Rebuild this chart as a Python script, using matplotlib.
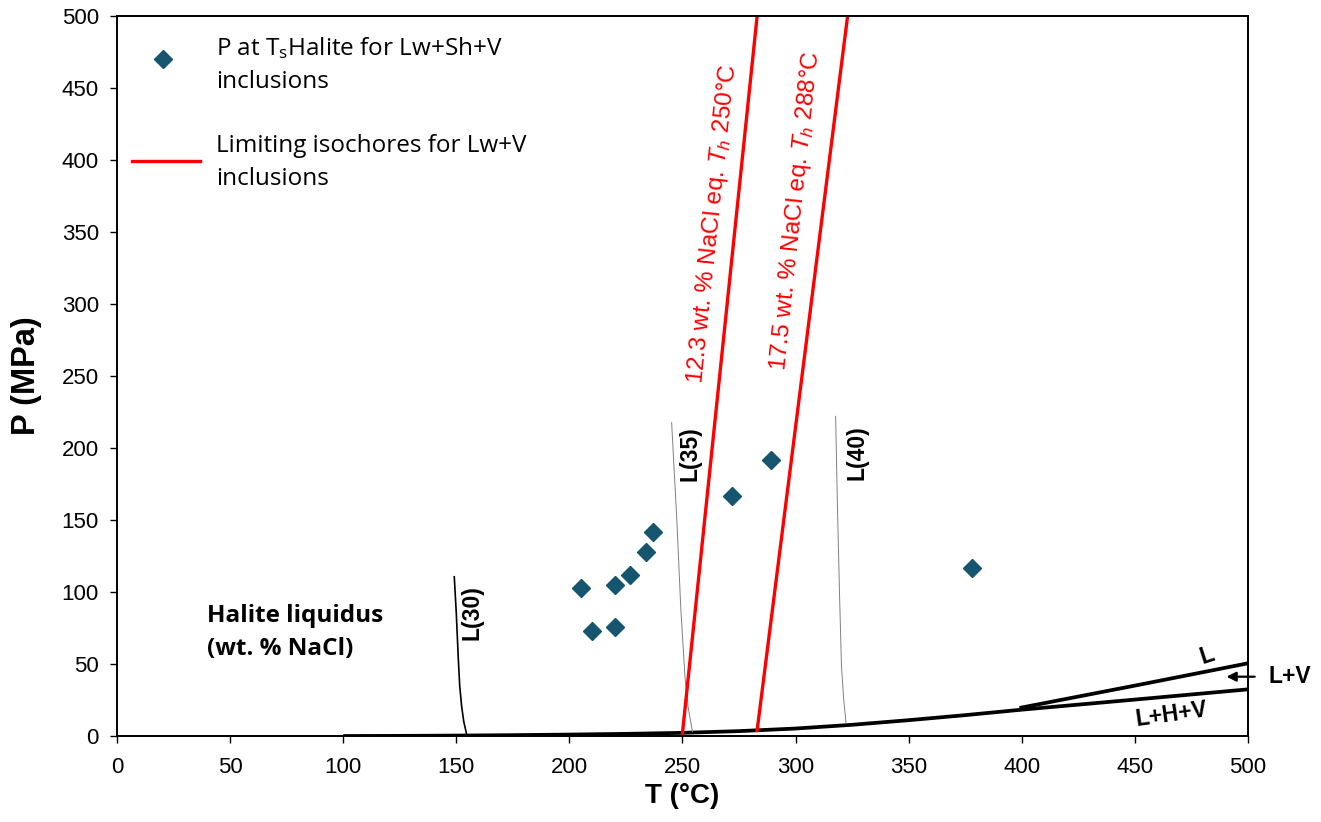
import numpy as np
import matplotlib.pyplot as plt

plt.rcParams['font.family'] = ['Liberation Sans', 'DejaVu Sans']
plt.rcParams['mathtext.fontset'] = 'custom'
plt.rcParams['mathtext.rm'] = 'Liberation Sans'
plt.rcParams['mathtext.it'] = 'Liberation Sans:italic'

# inclusion data: P at Ts halite
t_incl = [205, 210, 220, 220, 227, 234, 237, 272, 289, 378]
p_incl = [103, 73, 105, 76, 112, 128, 142, 167, 192, 117]

# L+H+V curve
t_lhv = [100, 125, 150, 175, 200, 225, 250, 275, 300, 325, 350, 375, 400, 450, 500]
p_lhv = [0, 0.1, 0.3, 0.6, 1.0, 1.5, 2.2, 3.4, 5.2, 7.8, 11, 14.5, 18.3, 25.3, 32.4]

# L / L+V boundary
t_lv = [399, 450, 500]
p_lv = [19.5, 35, 50.5]

# halite liquidus lines
t_l30 = [149.1, 150.0, 150.9, 151.5, 152.4, 153.3, 154.3, 154.6]
p_l30 = [110.6, 85, 53, 35, 20, 10, 3, 0.4]
t_l35 = [245.2, 247.5, 249.2, 251.1, 252.5, 254.4]
p_l35 = [217.6, 150, 90, 41, 20, 3]
t_l40 = [317.7, 318.5, 319.4, 320.3, 321.3, 322.3]
p_l40 = [222, 160, 100, 48, 25, 9]

# limiting isochores
t_iso1 = [250, 283]
p_iso1 = [2.2, 500]
t_iso2 = [283, 323]
p_iso2 = [3.9, 500]

fig = plt.figure(figsize=(13.21, 8.22), dpi=100)
ax = fig.add_axes([0.0886, 0.1046, 0.8561, 0.8759])

ax.plot(t_lhv, p_lhv, color='black', lw=2.7, solid_capstyle='butt')
ax.plot(t_lv, p_lv, color='black', lw=2.7, solid_capstyle='butt')
ax.plot(t_l30, p_l30, color='black', lw=1.2)
ax.plot(t_l35, p_l35, color='#808080', lw=0.7)
ax.plot(t_l40, p_l40, color='#808080', lw=0.7)
ax.plot(t_iso1, p_iso1, color='#ff0000', lw=2.4)
ax.plot(t_iso2, p_iso2, color='#ff0000', lw=2.4)
ax.plot(t_incl, p_incl, 'D', color='#155570', ms=9.5, ls='none')

ax.set_xlim(0, 500)
ax.set_ylim(0, 500)
ax.set_xticks(np.arange(0, 501, 50))
ax.set_yticks(np.arange(0, 501, 50))
ax.tick_params(direction='out', length=5, width=1, labelsize=16)
ax.tick_params(axis='x', pad=10)
ax.tick_params(axis='y', pad=8)
for s in ax.spines.values():
    s.set_linewidth(1.4)

ax.set_xlabel('T (°C)', fontsize=20, fontweight='bold', labelpad=4)
ax.set_ylabel('P (MPa)', fontsize=23.5, fontweight='bold', labelpad=14)

# labels on the liquidus lines
bold = dict(fontsize=16.5, fontweight='bold', ha='center', va='center')
ax.text(157, 86, 'L(30)', rotation=90, **bold)
ax.text(253.5, 196, 'L(35)', rotation=90, **bold)
ax.text(327, 197, 'L(40)', rotation=90, **bold)
ax.text(482, 56, 'L', rotation=18, fontsize=16.5, fontweight='bold', ha='center', va='center')
ax.text(466, 14.6, 'L+H+V', rotation=8, fontsize=16.5, fontweight='bold', ha='center', va='center')
ax.text(509, 41, 'L+V', fontsize=16.5, fontweight='bold', ha='left', va='center', clip_on=False)
ax.annotate('', xy=(490.5, 41.2), xytext=(503, 41.2), annotation_clip=False,
            arrowprops=dict(arrowstyle='-|>', color='black', lw=1.6, mutation_scale=14,
                            shrinkA=0, shrinkB=0))

ax.text(39.8, 79.4, 'Halite liquidus', fontsize=17.5, fontweight='bold',
        family=['Open Sans', 'DejaVu Sans'], ha='left', va='baseline')
ax.text(39.8, 56.4, '(wt. % NaCl)', fontsize=17.5, fontweight='bold',
        family=['Open Sans', 'DejaVu Sans'], ha='left', va='baseline')

# isochore labels
ax.text(263.5, 356, '12.3 wt. % NaCl eq. $\\mathit{T}_\\mathit{h}$ 250°C', rotation=84,
        rotation_mode='anchor', color='#ff0000', fontsize=17.5, ha='center', va='center')
ax.text(300.2, 364.6, '17.5 wt. % NaCl eq. $\\mathit{T}_\\mathit{h}$ 288°C', rotation=84,
        rotation_mode='anchor', color='#ff0000', fontsize=17.5, ha='center', va='center')

# legend drawn by hand
lg = dict(fontsize=17.5, family=['Open Sans', 'DejaVu Sans'], ha='left', va='baseline',
          transform=ax.transAxes)
ax.plot([0.0407], [0.940], 'D', color='#155570', ms=9.5, transform=ax.transAxes, clip_on=False)
ax.text(0.0875, 1 - (55 - 16) / 720, 'P at T$_\\mathregular{s}$Halite for Lw+Sh+V', **lg)
ax.text(0.0875, 1 - (88 - 16) / 720, 'inclusions', **lg)
ax.plot([0.0133, 0.0734], [1 - (161 - 16) / 720] * 2, color='#ff0000', lw=2.4,
        transform=ax.transAxes, clip_on=False)
ax.text(0.0875, 1 - (152 - 16) / 720, 'Limiting isochores for Lw+V', **lg)
ax.text(0.0875, 1 - (185 - 16) / 720, 'inclusions', **lg)

fig.savefig('out.png', dpi=100)
